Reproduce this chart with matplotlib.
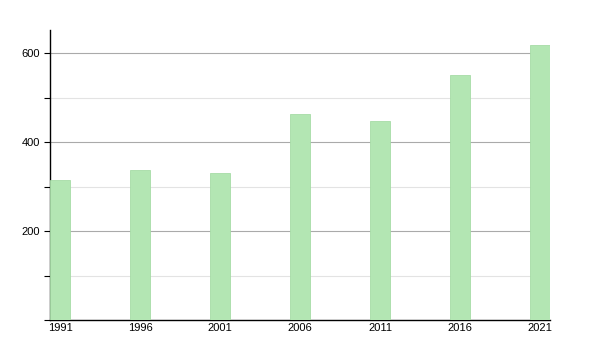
import matplotlib
matplotlib.use('Agg')
import matplotlib.pyplot as plt
from matplotlib.ticker import MultipleLocator

# data
years = [1991, 1996, 2001, 2006, 2011, 2016, 2021]
values = [315, 337, 330, 463, 447, 551, 618]

plt.rcParams['font.family'] = ['Liberation Sans', 'DejaVu Sans']

fig = plt.figure(figsize=(6, 3.5), dpi=100)
ax = fig.add_axes([50/600, 30/350, 500/600, 290/350])

ax.bar(years, values, width=1.3, color='#b3e6b3', edgecolor='#a6dca6', linewidth=0.6, zorder=3)

ax.set_xlim(1990.375, 2021.625)
ax.set_ylim(0, 652)
ax.set_xticks(years)
ax.set_xticklabels([str(y) for y in years])
ax.yaxis.set_major_locator(MultipleLocator(200))
ax.yaxis.set_minor_locator(MultipleLocator(100))
ax.set_yticks([200, 400, 600])

ax.grid(axis='y', which='major', color='#aaaaaa', linewidth=0.8, zorder=0)
ax.grid(axis='y', which='minor', color='#e3e3e3', linewidth=0.8, zorder=0)

for s in ['top', 'right']:
    ax.spines[s].set_visible(False)
ax.spines['left'].set_linewidth(1.0)
ax.spines['bottom'].set_linewidth(1.0)

ax.tick_params(axis='x', length=0, pad=2, labelsize=8)
ax.tick_params(axis='y', which='major', length=4, width=0.8, labelsize=8, pad=3)
ax.tick_params(axis='y', which='minor', length=4, width=0.8)

fig.savefig('out.png', dpi=100)
